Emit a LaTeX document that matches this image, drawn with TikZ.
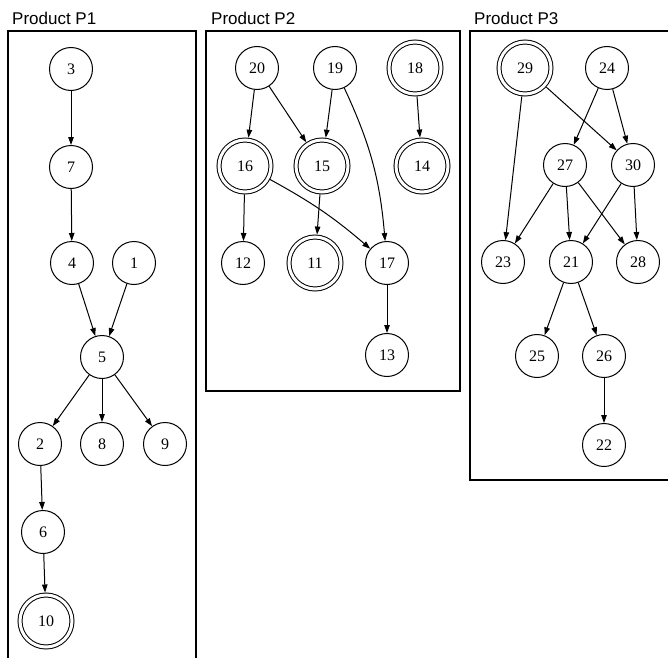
\documentclass[tikz,border=0pt]{standalone}
\usepackage{fontspec}
\setmainfont{Liberation Serif}
\newfontfamily\labelfont{Liberation Sans}
\usetikzlibrary{arrows.meta}
\begin{document}
\begin{tikzpicture}[x=1pt,y=-1pt,
  st/.style={circle,draw,line width=1pt,minimum size=43pt,inner sep=0pt,font=\fontsize{16}{16}\selectfont},
  fin/.style={st,double,double distance=3pt,minimum size=52pt,outer sep=2.5pt},
  edge/.style={line width=1pt,-{Triangle[length=8pt,width=5.5pt]}},
  box/.style={line width=1.3pt},
  title/.style={anchor=base west,inner sep=0pt,font=\labelfont\fontsize{17}{17}\selectfont}]
\useasboundingbox (0,0) rectangle (668,658);
\fill[white] (0,0) rectangle (668,658);
% clusters
\draw[box] (8,658) -- (8,31) -- (196,31) -- (196,658);
\draw[box] (206,31) rectangle (460,391);
\draw[box] (668,31) -- (470,31) -- (470,480) -- (668,480);
\node[title] (t1) at (12,25) {Product P1};
\node[title] (t2) at (211,25) {Product P2};
\node[title] (t3) at (474,25) {Product P3};
% P1
\node[st] (n3) at (71,69) {3};
\node[st] (n7) at (71,167) {7};
\node[st] (n4) at (72,263) {4};
\node[st] (n1) at (134,263) {1};
\node[st] (n5) at (102,357) {5};
\node[st] (n2) at (40,444) {2};
\node[st] (n8) at (102,444) {8};
\node[st] (n9) at (165,444) {9};
\node[st] (n6) at (43,532) {6};
\node[fin] (n10) at (46,621) {10};
\draw[edge] (n3) -- (n7);
\draw[edge] (n7) -- (n4);
\draw[edge] (n4) -- (n5);
\draw[edge] (n1) -- (n5);
\draw[edge] (n5) -- (n2);
\draw[edge] (n5) -- (n8);
\draw[edge] (n5) -- (n9);
\draw[edge] (n2) -- (n6);
\draw[edge] (n6) -- (n10);
% P2
\node[st] (n20) at (257,68) {20};
\node[st] (n19) at (335,68) {19};
\node[fin] (n18) at (415,68) {18};
\node[fin] (n16) at (245,166) {16};
\node[fin] (n15) at (322,166) {15};
\node[fin] (n14) at (422,166) {14};
\node[st] (n12) at (243,263) {12};
\node[fin] (n11) at (315,263) {11};
\node[st] (n17) at (387,263) {17};
\node[st] (n13) at (387,355) {13};
\draw[edge] (n20) -- (n16);
\draw[edge] (n20) -- (n15);
\draw[edge] (n19) -- (n15);
\draw[edge] (n19) to[bend left=10] (n17);
\draw[edge] (n18) -- (n14);
\draw[edge] (n16) -- (n12);
\draw[edge] (n16) to[bend left=6] (n17);
\draw[edge] (n15) -- (n11);
\draw[edge] (n17) -- (n13);
% P3
\node[fin] (n29) at (525,68) {29};
\node[st] (n24) at (607,68) {24};
\node[st] (n27) at (565,165) {27};
\node[st] (n30) at (633,165) {30};
\node[st] (n23) at (503,262) {23};
\node[st] (n21) at (571,262) {21};
\node[st] (n28) at (638,262) {28};
\node[st] (n25) at (537,356) {25};
\node[st] (n26) at (604,356) {26};
\node[st] (n22) at (604,445) {22};
\draw[edge] (n29) -- (n23);
\draw[edge] (n29) -- (n30);
\draw[edge] (n24) -- (n27);
\draw[edge] (n24) -- (n30);
\draw[edge] (n27) -- (n23);
\draw[edge] (n27) -- (n21);
\draw[edge] (n27) -- (n28);
\draw[edge] (n30) -- (n21);
\draw[edge] (n30) -- (n28);
\draw[edge] (n21) -- (n25);
\draw[edge] (n21) -- (n26);
\draw[edge] (n26) -- (n22);
\end{tikzpicture}
\end{document}
